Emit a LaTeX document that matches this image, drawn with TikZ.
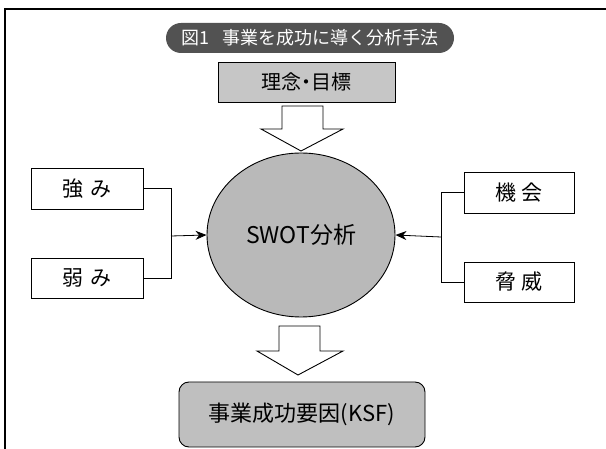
\documentclass[tikz,border=0pt]{standalone}
\usepackage{fontspec}
\setmainfont{Noto Sans CJK JP}
\usetikzlibrary{arrows.meta,shapes.geometric}
\begin{document}
\begin{tikzpicture}[x=1pt,y=-1pt,
  titlebox/.style={fill=black!68,text=white,rounded corners=15pt,minimum width=288pt,minimum height=30pt,inner sep=0pt,font=\fontsize{18}{21}\selectfont},
  graybox/.style={draw,line width=0.9pt,inner sep=0pt},
  plainbox/.style={draw,line width=0.9pt,fill=white,minimum width=112pt,minimum height=41pt,inner sep=0pt,font=\fontsize{21}{24}\selectfont},
  blockarrow/.style={draw,line width=0.9pt,fill=white,line join=miter},
  conn/.style={line width=0.8pt},
  connarrow/.style={line width=0.8pt,-{Stealth[length=11pt,width=9pt]}}
]
\useasboundingbox (0,0) rectangle (606,449);
\draw[line width=1.2pt] (5,449) -- (5,9) -- (606,9);

\node[titlebox] (title) at (310,38) {図1\hspace{0.7em}事業を成功に導く分析手法};
\node[graybox,fill=gray!45,minimum width=177pt,minimum height=40pt,font=\fontsize{20}{23}\selectfont] (goal) at (306.5,82) {理念\kern-0.25em・\kern-0.25em目標};

\node[ellipse,draw,line width=0.9pt,fill=gray!55,minimum width=188pt,minimum height=164pt,inner sep=0pt,font=\fontsize{23}{27}\selectfont] (swot) at (301,235) {SWOT分析};

\node[plainbox] (s) at (87,188.5) {強\hspace{0.3em}み};
\node[plainbox,minimum height=40pt] (w) at (87,278) {弱\hspace{0.3em}み};
\node[plainbox,minimum width=110pt] (o) at (519,192.5) {機\hspace{0.2em}会};
\node[plainbox,minimum width=110pt,minimum height=40pt] (t) at (519,282) {脅\hspace{0.2em}威};

\node[graybox,fill=gray!50,rounded corners=10pt,minimum width=246pt,minimum height=65pt,font=\fontsize{22}{26}\selectfont] (ksf) at (302,414.5) {事業成功要因(KSF)};

% block arrows
\draw[blockarrow] (282,106) -- (323,106) -- (323,129) -- (343,129) -- (301,151) -- (261,129) -- (282,129) -- cycle;
\draw[blockarrow] (279,326) -- (320,326) -- (320,351) -- (343,351) -- (298,375) -- (257,351) -- (279,351) -- cycle;

% connectors left
\coordinate (lj) at (171,236);
\draw[conn] (s.east) -- (171,188.5) -- (171,278) -- (w.east);
\draw[connarrow] (lj) -- (swot.west);
% connectors right
\coordinate (rj) at (441,237);
\draw[conn] (o.west) -- (441,192.5) -- (441,282) -- (t.west);
\draw[connarrow] (rj) -- (swot.east);
\end{tikzpicture}
\end{document}
